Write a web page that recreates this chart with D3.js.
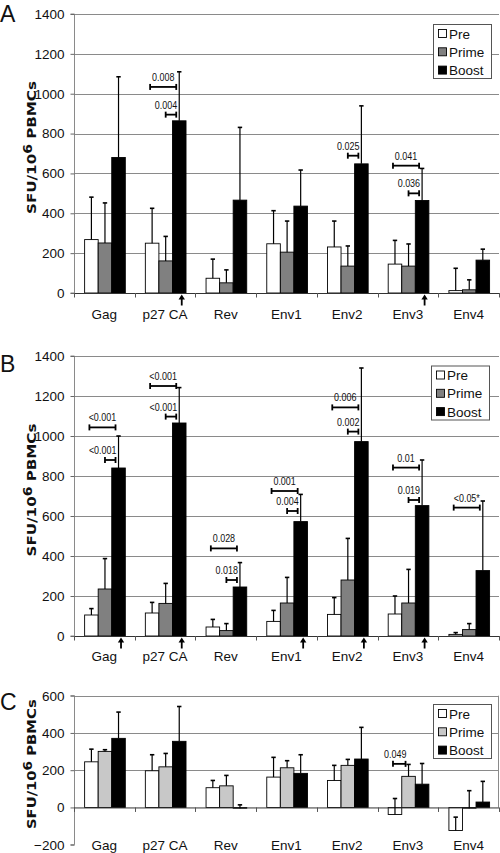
<!DOCTYPE html>
<html><head><meta charset="utf-8">
<script src="https://cdn.jsdelivr.net/npm/d3@7"></script>
<style>body{margin:0;background:#fff}svg{display:block}</style>
</head><body>
<script>
// ---------- DATA ----------
const categories = ["Gag","p27 CA","Rev","Env1","Env2","Env3","Env4"];
const seriesNames = ["Pre","Prime","Boost"];

// Panel A
const preA      = [268,250,74,247,231,145,12];
const preErrA   = [213,175,96,166,130,119,112];
const primeA    = [251,161,51,205,135,135,16];
const primeErrA = [201,123,65,156,101,111,50];
const boostA    = [680,864,466,436,648,464,165];
const boostErrA = [405,246,365,181,291,161,55];
const ticksA = [0,200,400,600,800,1000,1200,1400];
const arrowsA = ["p27 CA","Env3"];
const annotationsA = [
  {cat:"p27 CA", from:"Pre",   to:"Boost", level:1034, text:"0.008"},
  {cat:"p27 CA", from:"Prime", to:"Boost", level:895,  text:"0.004"},
  {cat:"Env2",   from:"Prime", to:"Boost", level:689,  text:"0.025"},
  {cat:"Env3",   from:"Pre",   to:"Boost", level:639,  text:"0.041"},
  {cat:"Env3",   from:"Prime", to:"Boost", level:500,  text:"0.036"}
];

// Panel B
const preB      = [105,115,45,73,108,110,8];
const preErrB   = [32,53,38,55,84,90,9];
const primeB    = [235,163,27,165,280,165,32];
const primeErrB = [152,100,35,128,208,168,30];
const boostB    = [840,1065,245,572,972,652,327];
const boostErrB = [160,177,122,136,368,228,348];
const ticksB = [0,200,400,600,800,1000,1200,1400];
const arrowsB = ["Gag","p27 CA","Env1","Env2","Env3"];
const annotationsB = [
  {cat:"Gag",    from:"Pre",   to:"Boost", level:1043, text:"<0.001"},
  {cat:"Gag",    from:"Prime", to:"Boost", level:880,  text:"<0.001"},
  {cat:"p27 CA", from:"Pre",   to:"Boost", level:1250, text:"<0.001"},
  {cat:"p27 CA", from:"Prime", to:"Boost", level:1097, text:"<0.001"},
  {cat:"Rev",    from:"Pre",   to:"Boost", level:438,  text:"0.028"},
  {cat:"Rev",    from:"Prime", to:"Boost", level:280,  text:"0.018"},
  {cat:"Env1",   from:"Pre",   to:"Boost", level:725,  text:"0.001"},
  {cat:"Env1",   from:"Prime", to:"Boost", level:625,  text:"0.004"},
  {cat:"Env2",   from:"Pre",   to:"Boost", level:1143, text:"0.006"},
  {cat:"Env2",   from:"Prime", to:"Boost", level:1022, text:"0.002"},
  {cat:"Env3",   from:"Pre",   to:"Boost", level:842,  text:"0.01"},
  {cat:"Env3",   from:"Prime", to:"Boost", level:680,  text:"0.019"},
  {cat:"Env4",   from:"Pre",   to:"Boost", level:642,  text:"<0.05*"}
];

// Panel C
const preC      = [245,197,106,163,145,-38,-124];
const preErrC   = [68,86,39,106,81,86,72];
const primeC    = [301,218,116,213,226,167,-4];
const primeErrC = [9,72,56,38,32,64,94];
const boostC    = [371,355,-4,183,260,125,29];
const boostErrC = [141,187,18,100,170,111,111];
const ticksC = [-200,0,200,400,600];
const arrowsC = [];
const annotationsC = [
  {cat:"Env3", from:"Pre", to:"Prime", level:234, text:"0.049"}
];

// ---------- DRAWING ----------
const W = 500, H = 853;
const svg = d3.select("body").append("svg").attr("width", W).attr("height", H);
const FONT = "'Liberation Sans', Arial, sans-serif";
const xLeft = 74, xRight = 499;

function drawPanel(o) {
  const g = svg.append("g");
  const y = d3.scaleLinear().domain(o.domain).range(o.range);
  const x0 = d3.scaleBand().domain(categories).range([xLeft, xRight]).padding(0);
  const bw = x0.bandwidth();
  const x1 = d3.scaleBand().domain(seriesNames).range([bw * 0.175, bw * 0.845]).padding(0);
  const y0 = y(0);
  const gridColor = "#8a8a8a";

  // gridlines
  g.selectAll("line.grid").data(o.ticks.filter(t => t > 0)).join("line")
    .attr("x1", xLeft).attr("x2", xRight)
    .attr("y1", d => Math.round(y(d)) + 0.5).attr("y2", d => Math.round(y(d)) + 0.5)
    .attr("stroke", gridColor).attr("stroke-width", 1);

  if (o.rightBorder) {
    g.append("line").attr("x1", xRight - 0.5).attr("x2", xRight - 0.5)
      .attr("y1", y(o.domain[1])).attr("y2", y0).attr("stroke", gridColor);
  }

  // y axis
  const yAxis = d3.axisLeft(y).tickValues(o.ticks).tickSize(4).tickPadding(6)
    .tickFormat(d3.format("d"));
  const ya = g.append("g").attr("transform", `translate(${xLeft + 0.5},0)`).call(yAxis);
  ya.select(".domain").attr("stroke", gridColor).attr("d", `M-4,${y(o.domain[1])}H0V${y(o.domain[0])}H-4`);
  ya.selectAll(".tick line").attr("stroke", "#666");
  ya.selectAll(".tick text").attr("font-family", FONT).attr("font-size", 13.5).attr("fill", "#111");

  // bars
  const series = [
    {name:"Pre", vals:o.pre, errs:o.preErr, fill:"#ffffff"},
    {name:"Prime", vals:o.prime, errs:o.primeErr, fill:o.primeFill},
    {name:"Boost", vals:o.boost, errs:o.boostErr, fill:"#000000"}
  ];
  series.forEach(s => {
    const data = categories.map((c, i) => ({c, v:s.vals[i], e:s.errs[i]}));
    g.selectAll(null).data(data).join("rect")
      .attr("x", d => x0(d.c) + x1(s.name))
      .attr("width", x1.bandwidth())
      .attr("y", d => Math.min(y(d.v), y0))
      .attr("height", d => Math.abs(y(d.v) - y0))
      .attr("fill", s.fill).attr("stroke", "#000").attr("stroke-width", 0.9);
  });

  // x axis line + ticks
  g.append("line").attr("x1", xLeft).attr("x2", xRight)
    .attr("y1", y0 + 0.5).attr("y2", y0 + 0.5).attr("stroke", "#333").attr("stroke-width", 1);
  const bounds = categories.map(c => x0(c)).concat([xRight]);
  g.selectAll(null).data(bounds).join("line")
    .attr("x1", d => Math.round(d) + 0.5).attr("x2", d => Math.round(d) + 0.5)
    .attr("y1", y0).attr("y2", y0 + 4.5).attr("stroke", "#555");

  // error bars
  series.forEach(s => {
    const data = categories.map((c, i) => ({c, v:s.vals[i], e:s.errs[i]}));
    const cx = d => x0(d.c) + x1(s.name) + x1.bandwidth() / 2;
    g.selectAll(null).data(data).join("line")
      .attr("x1", cx).attr("x2", cx)
      .attr("y1", d => y(d.v)).attr("y2", d => y(d.v + d.e))
      .attr("stroke", "#000").attr("stroke-width", 1.2);
    g.selectAll(null).data(data).join("line")
      .attr("x1", d => cx(d) - 2.2).attr("x2", d => cx(d) + 2.2)
      .attr("y1", d => y(d.v + d.e)).attr("y2", d => y(d.v + d.e))
      .attr("stroke", "#000").attr("stroke-width", 1.6);
  });

  // category labels
  g.selectAll(null).data(categories).join("text")
    .attr("x", c => x0(c) + bw / 2).attr("y", o.labelY)
    .attr("text-anchor", "middle").attr("font-family", FONT).attr("font-size", 13.5)
    .attr("fill", "#111").text(c => c);

  // arrows
  o.arrows.forEach(c => {
    const ax = x0(c) + x1("Boost") + x1.bandwidth() / 2 + 2.5;
    g.append("line").attr("x1", ax).attr("x2", ax).attr("y1", y0 + 5).attr("y2", y0 + 12.5)
      .attr("stroke", "#000").attr("stroke-width", 1.8);
    g.append("path").attr("d", `M${ax},${y0 + 1.5}L${ax - 3.2},${y0 + 6.5}L${ax + 3.2},${y0 + 6.5}Z`).attr("fill", "#000");
  });

  // annotations
  o.annotations.forEach(a => {
    const xa = x0(a.cat) + x1(a.from) + x1.bandwidth() / 2 - (a.from === "Pre" ? 2 : 0);
    const xb = x0(a.cat) + x1(a.to) + x1.bandwidth() / 2 - 3;
    const yy = y(a.level);
    g.append("line").attr("x1", xa).attr("x2", xb).attr("y1", yy).attr("y2", yy)
      .attr("stroke", "#000").attr("stroke-width", 1.8);
    [xa, xb].forEach(xx => g.append("line").attr("x1", xx).attr("x2", xx)
      .attr("y1", yy - 3).attr("y2", yy + 3).attr("stroke", "#000").attr("stroke-width", 1.8));
    const wide = (xb - xa) > 15;
    const tx = wide ? (xa + xb) / 2 : xb + 1;
    g.append("text").attr("transform", `translate(${tx},${yy - 6}) scale(0.78,1)`)
      .attr("text-anchor", wide ? "middle" : "end")
      .attr("font-family", FONT).attr("font-size", 11.5).attr("fill", "#111").text(a.text);
  });

  // legend
  const lg = g.append("g").attr("transform", `translate(${o.legend[0]},${o.legend[1]})`);
  lg.append("rect").attr("x", 0.5).attr("y", 0.5).attr("width", 58).attr("height", 54)
    .attr("fill", "#fff").attr("stroke", "#555").attr("stroke-width", 1);
  series.forEach((s, i) => {
    lg.append("rect").attr("x", 5.5).attr("y", 5.5 + i * 18.3).attr("width", 8).attr("height", 8)
      .attr("fill", s.fill).attr("stroke", "#000").attr("stroke-width", 0.9);
    lg.append("text").attr("x", 16).attr("y", 14.5 + i * 18.3)
      .attr("font-family", FONT).attr("font-size", 13.5).attr("fill", "#111").text(s.name);
  });

  // panel letter
  g.append("text").attr("x", 0).attr("y", o.letterY).attr("font-family", FONT)
    .attr("font-size", 23).attr("fill", "#111").text(o.letter);

  // y title (scaled to the reference's length)
  const cy = (y(o.domain[0]) + y(o.domain[1])) / 2 - 6;
  const t = g.append("text")
    .attr("text-anchor", "middle").attr("font-family", "'DejaVu Sans', sans-serif")
    .attr("font-weight", "bold").attr("font-size", 13).attr("fill", "#111");
  t.append("tspan").text("SFU/10");
  t.append("tspan").attr("dy", -4).attr("font-size", 12).text("6");
  t.append("tspan").attr("dy", 4).text(" PBMCs");
  const len = t.node().getComputedTextLength() || 130;
  const k = o.titleLen / len;
  t.attr("transform", `translate(35.5,${cy}) rotate(-90) scale(${k},1)`);
}

drawPanel({
  letter:"A", letterY:21.5, domain:[0,1400], range:[293,14], ticks:ticksA,
  pre:preA, preErr:preErrA, prime:primeA, primeErr:primeErrA, boost:boostA, boostErr:boostErrA,
  primeFill:"#808080", arrows:arrowsA, annotations:annotationsA, labelY:318.5, legend:[433,24],
  titleLen:133
});
drawPanel({
  letter:"B", letterY:372, domain:[0,1400], range:[636,356], ticks:ticksB,
  pre:preB, preErr:preErrB, prime:primeB, primeErr:primeErrB, boost:boostB, boostErr:boostErrB,
  primeFill:"#808080", arrows:arrowsB, annotations:annotationsB, labelY:661, legend:[431,365.5],
  titleLen:133
});
drawPanel({
  letter:"C", letterY:710, domain:[-200,600], range:[844.7,695.7], ticks:ticksC,
  pre:preC, preErr:preErrC, prime:primeC, primeErr:primeErrC, boost:boostC, boostErr:boostErrC,
  primeFill:"#c8c8c8", arrows:arrowsC, annotations:annotationsC, labelY:849.5, legend:[433,704],
  rightBorder:true, titleLen:130
});
</script>
</body></html>
